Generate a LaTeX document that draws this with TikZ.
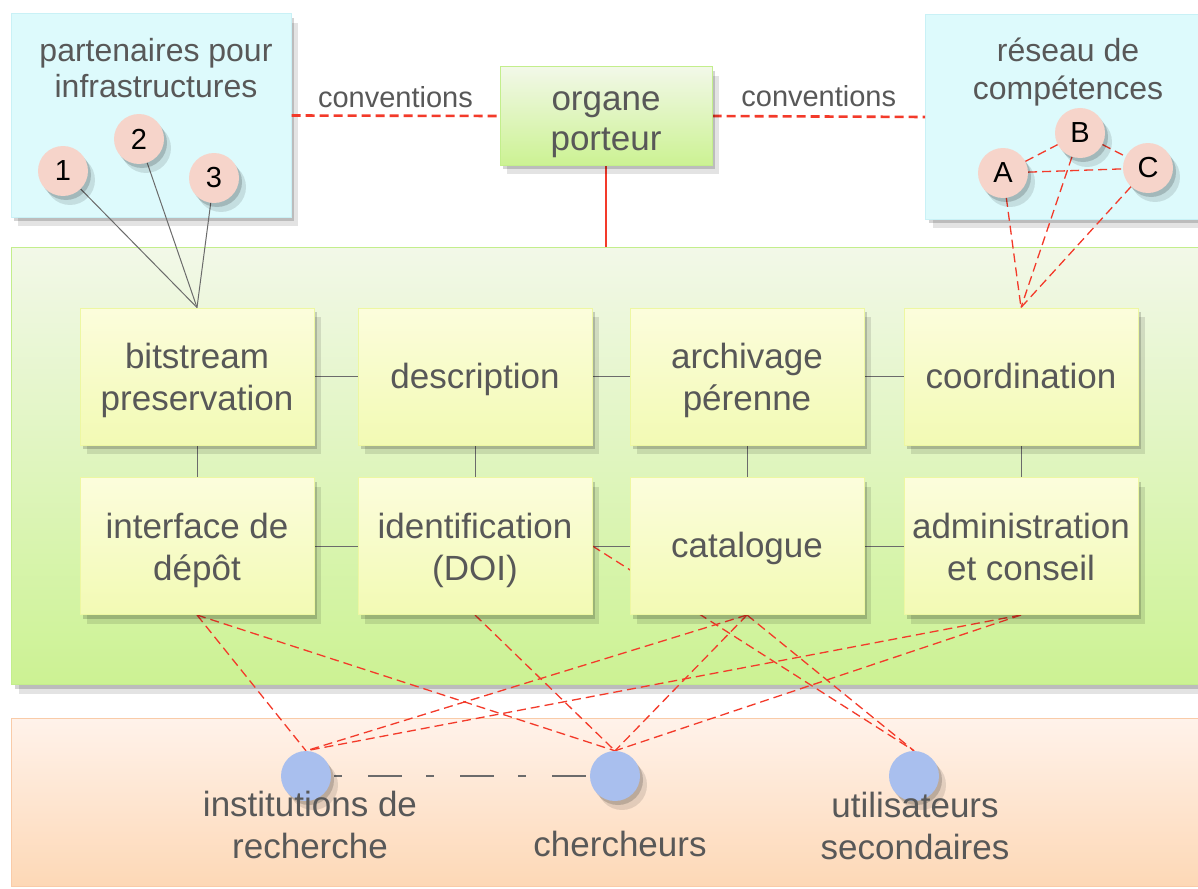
\documentclass[tikz,border=0pt]{standalone}
\usepackage{fontspec}
\setmainfont{Liberation Sans}
\usetikzlibrary{shadows,calc}
\definecolor{txt}{HTML}{585858}
\definecolor{cyanfill}{HTML}{DDFAFC}
\definecolor{cyanborder}{HTML}{C9F1F6}
\definecolor{gtop}{HTML}{F2F8E8}
\definecolor{gbot}{HTML}{CCF293}
\definecolor{gborder}{HTML}{C3EE8C}
\definecolor{ytop}{HTML}{FCFDDC}
\definecolor{ybot}{HTML}{F2FAB4}
\definecolor{yborder}{HTML}{EDF7A2}
\definecolor{otop}{HTML}{FFF2EA}
\definecolor{obot}{HTML}{FDD8B6}
\definecolor{oborder}{HTML}{F9CBA8}
\definecolor{pinkc}{HTML}{F6D4CA}
\definecolor{bluec}{HTML}{A9BFEE}
\definecolor{redl}{HTML}{F33A2A}
\definecolor{greyl}{HTML}{6B6B6B}
\pgfdeclarelayer{bg}
\pgfdeclarelayer{lines}
\pgfsetlayers{bg,lines,main}
\tikzset{
  big/.style={font=\fontsize{35}{42}\selectfont, text=txt, align=center},
  mid/.style={font=\fontsize{32}{37}\selectfont, text=txt, align=center},
  small/.style={font=\fontsize{29}{34}\selectfont, text=txt, inner sep=0pt},
  softshadow/.style={drop shadow={shadow xshift=3pt,shadow yshift=-4pt,opacity=.17,fill=black},
                     drop shadow={shadow xshift=7pt,shadow yshift=-9pt,opacity=.11,fill=black}},
  cyanbox/.style={draw=cyanborder, fill=cyanfill, line width=1pt, inner sep=0pt, softshadow},
  panel/.style={draw=gborder, line width=1.2pt, top color=gtop, bottom color=gbot, inner sep=0pt},
  orangepanel/.style={draw=oborder, line width=1.2pt, top color=otop, bottom color=obot, inner sep=0pt},
  fbox/.style={big, draw=yborder, line width=1pt, top color=ytop, bottom color=ybot,
               minimum width=234pt, minimum height=137pt, inner sep=0pt, softshadow},
  twolines/.style={text height=75pt, text depth=7pt},
  oneline/.style={text height=30pt, text depth=7pt},
  organebox/.style={big, font=\fontsize{35}{40}\selectfont, draw=gborder, line width=1pt,
               top color=gtop, bottom color=gbot, text height=76pt, text depth=7pt,
               minimum width=212pt, minimum height=98pt, inner sep=0pt, softshadow},
  pcircle/.style={circle, fill=pinkc, minimum size=50pt, inner sep=0pt,
               font=\fontsize{29}{29}\selectfont, text=black, softshadow},
  actor/.style={circle, fill=bluec, minimum size=50pt, inner sep=0pt, softshadow},
  gline/.style={greyl, line width=1pt},
  rdash/.style={redl, line width=1.3pt, dash pattern=on 9pt off 5pt},
  conv/.style={redl, line width=2.6pt, dash pattern=on 9pt off 5pt},
}
\begin{document}
\begin{tikzpicture}[x=1pt,y=-1pt]
\useasboundingbox (0,0) rectangle (1198,888);
\begin{pgfonlayer}{bg}
\fill[white] (0,0) rectangle (1198,888);
\node[cyanbox, minimum width=280pt, minimum height=203pt] (partners) at (151,115.5) {};
\node[cyanbox, minimum width=285pt, minimum height=204pt, anchor=west] (network) at (925,117) {};
\node[panel, softshadow, minimum width=1195pt, minimum height=437pt, anchor=north west] (core) at (11,247) {};
\node[orangepanel, minimum width=1195pt, minimum height=168pt, anchor=north west] (users) at (11,718) {};
\end{pgfonlayer}

% labels of the top boxes
\node[mid, font=\fontsize{32}{36}\selectfont] (partnerslabel) at (156,68) {partenaires pour\\infrastructures};
\node[mid, font=\fontsize{32}{38}\selectfont] (networklabel) at (1068,72) {réseau de\\compétences};

% organe porteur
\node[organebox] (organe) at (606,116) {organe\\porteur};

% partner circles
\node[pcircle] (p1) at (63,171) {1};
\node[pcircle] (p2) at (139,139) {2};
\node[pcircle] (p3) at (214,178) {3};

% competence circles
\node[pcircle] (ca) at (1003,173) {A};
\node[pcircle] (cb) at (1080,133) {B};
\node[pcircle] (cc) at (1148,168) {C};

% function boxes
\node[fbox, twolines] (bit)   at (197,376.5) {bitstream\\preservation};
\node[fbox, oneline]  (desc)  at (475,376.5) {description};
\node[fbox, twolines] (arch)  at (747,376.5) {archivage\\pérenne};
\node[fbox, oneline]  (coord) at (1021,376.5) {coordination};
\node[fbox, twolines] (iface) at (197,546) {interface de\\dépôt};
\node[fbox, twolines] (doi)   at (475,546) {identification\\(DOI)};
\node[fbox, oneline]  (cat)   at (747,546) {catalogue};
\node[fbox, twolines] (admin) at (1021,546) {administration\\et conseil};

% user groups
\node[actor] (inst)   at (306,776) {};
\node[actor] (cherch) at (615,776) {};
\node[actor] (util)   at (914,776) {};
\node[big] (instlabel)   at (310,825) {institutions de\\recherche};
\node[big] (cherchlabel) at (620,844) {chercheurs};
\node[big] (utillabel)   at (915,826) {utilisateurs\\secondaires};

\begin{pgfonlayer}{lines}
% conventions
\draw[conv] (partners.east) -- node[small, above=7pt] (convL) {conventions} (organe.west);
\draw[conv] (organe.east) -- node[small, above=8pt] (convR) {conventions} (network.west);
\draw[redl, line width=2.5pt] (organe.south) -- (organe.south |- core.north);

% partners to bitstream
\draw[gline] (p1) -- (bit.north);
\draw[gline] (p2) -- (bit.north);
\draw[gline] (p3) -- (bit.north);

% competence network
\draw[rdash] (ca) -- (cb);
\draw[rdash] (ca) -- (cc);
\draw[rdash] (cb) -- (cc);
\draw[rdash] (ca) -- (coord.north);
\draw[rdash] (cb) -- (coord.north);
\draw[rdash] (cc) -- (coord.north);

% grid of functions
\draw[gline] (bit) -- (desc);
\draw[gline] (desc) -- (arch);
\draw[gline] (arch) -- (coord);
\draw[gline] (iface) -- (doi);
\draw[gline] (doi) -- (cat);
\draw[gline] (cat) -- (admin);
\draw[gline] (bit) -- (iface);
\draw[gline] (desc) -- (doi);
\draw[gline] (arch) -- (cat);
\draw[gline] (coord) -- (admin);

% functions to users
\draw[rdash] (iface.south) -- (inst.north);
\draw[rdash] (iface.south) -- (cherch.north);
\draw[rdash] (doi.south) -- (cherch.north);
\draw[rdash] (doi.east) -- (util.north);
\draw[rdash] (cat.south) -- (inst.north);
\draw[rdash] (cat.south) -- (cherch.north);
\draw[rdash] (cat.south) -- (util.north);
\draw[rdash] (admin.south) -- (inst.north);
\draw[rdash] (admin.south) -- (cherch.north);

% institutions - chercheurs
\draw[greyl, line width=1.5pt, dash pattern=on 34pt off 24pt on 8pt off 26pt, dash phase=55pt]
  (inst.east) -- (cherch.west);
\end{pgfonlayer}
\end{tikzpicture}
\end{document}
